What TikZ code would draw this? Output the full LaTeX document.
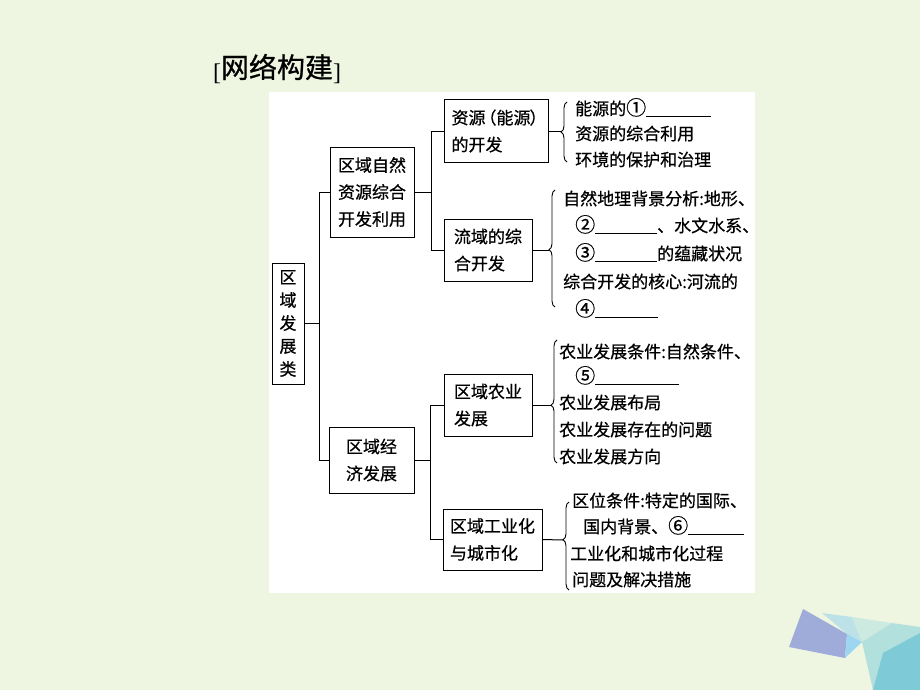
\documentclass[tikz,border=0pt]{standalone}
\usepackage{fontspec}
\setmainfont{Liberation Serif}
\newfontfamily\cjk[FakeBold=0.6]{Noto Sans CJK SC}
\newfontfamily\cjktitle[FakeBold=0.8]{Noto Sans CJK SC}
\usetikzlibrary{decorations.pathreplacing}
\definecolor{bg}{HTML}{EEF6E2}
\definecolor{polyA}{HTML}{9FABD8}
\definecolor{polyB}{HTML}{9DD6F0}
\definecolor{polyC}{HTML}{BCE2E8}
\definecolor{polyD}{HTML}{CCEADF}
\definecolor{polyE}{HTML}{B2E0DC}
\definecolor{polyF}{HTML}{7ECAD6}
\newcommand{\blank}[1]{\rule[-2pt]{#1pt}{0.7pt}}
\newcommand{\circnum}[1]{{\fontsize{20}{20}\selectfont #1}}
\begin{document}
\begin{tikzpicture}[x=1pt,y=-1pt,
  box/.style={draw, line width=1pt, inner sep=0pt, align=left,
    font=\cjk\fontsize{17}{27}\selectfont},
  item/.style={anchor=base west, inner sep=0pt, font=\cjk\fontsize{17}{20}\selectfont},
  link/.style={line width=1pt},
  brc/.style={line width=0.9pt, decorate}]
\fill[bg] (0,0) rectangle (920,690);
\useasboundingbox (0,0) rectangle (920,690);
\fill[white] (269,92) rectangle (755,593);

% decoration polygons
\fill[polyC] (822,613) -- (852,617) -- (862,642) -- (847,634) -- cycle;
\fill[polyD] (852,617) -- (892,623) -- (862,642) -- cycle;
\fill[polyE] (862,642) -- (892,623) -- (920,627) -- (920,690) -- (873,690) -- cycle;
\fill[polyF] (883,653) -- (920,633) -- (920,690) -- (873,690) -- cycle;
\fill[polyA] (803,609) -- (847,634) -- (845,658) -- (789,647) -- cycle;
\fill[polyB] (847,634) -- (862,642) -- (845,658) -- cycle;

% title
\node[inner sep=0pt] (title) at (277,69)
  {\fontsize{24}{28}\selectfont\raisebox{-3pt}{[}\cjktitle\fontsize{28}{32}\selectfont 网络构建\rmfamily\fontsize{24}{28}\selectfont\raisebox{-3pt}{]}};

% boxes
\node[box, minimum width=32pt, minimum height=121pt, align=center,
  font=\cjk\fontsize{17}{23}\selectfont] (root) at (288,323.5) {区\\域\\发\\展\\类};
\node[box, minimum width=84pt, minimum height=90pt] (A) at (372,192) {区域自然\\资源综合\\开发利用};
\node[box, minimum width=85pt, minimum height=66pt] (B) at (371.5,460) {区域经\\济发展};
\node[box, minimum width=104pt, minimum height=62pt] (a1) at (496,131)
  {资源\kern-6pt（能源\kern-1pt）\kern-6pt\\的开发};
\node[box, minimum width=88pt, minimum height=62pt] (a2) at (488,250) {流域的综\\合开发};
\node[box, minimum width=88pt, minimum height=62pt] (b1) at (488,405) {区域农业\\发展};
\node[box, minimum width=99pt, minimum height=61pt] (b2) at (492.5,539.5) {区域工业化\\与城市化};

% tree connectors
\coordinate (j0) at (319,0);
\coordinate (j1) at (431,0);
\coordinate (j2) at (430,0);
\draw[link] (root.east) -- (root.east -| j0);
\draw[link] (A.west) -| (j0 |- B.west) -- (B.west);
\draw[link] (A.east) -- (A.east -| j1);
\draw[link] (a1.west) -| (j1 |- a2.west) -- (a2.west);
\draw[link] (B.east) -- (B.east -| j2);
\draw[link] (b1.west) -| (j2 |- b2.west) -- (b2.west);

% braces
\coordinate (ca1) at (561,131);
\coordinate (sa1) at (567,162); \coordinate (ea1) at (567,102);
\coordinate (ca2) at (549,250);
\coordinate (sa2) at (555,307); \coordinate (ea2) at (555,190);
\coordinate (cb1) at (551,405);
\coordinate (sb1) at (557,463); \coordinate (eb1) at (557,340);
\coordinate (cb2) at (563,540);
\coordinate (sb2) at (569,590); \coordinate (eb2) at (569,502);
\draw[link] (a1.east) -- (ca1);
\draw[link] (a2.east) -- (ca2);
\draw[link] (b1.east) -- (cb1);
\draw[link] (b2.east) -- (cb2);
\draw[brc, decoration={brace, amplitude=6pt, aspect=0.5}] (sa1) -- (ea1);
\draw[brc, decoration={brace, amplitude=6pt, aspect=0.49}] (sa2) -- (ea2);
\draw[brc, decoration={brace, amplitude=6pt, aspect=0.47}] (sb1) -- (eb1);
\draw[brc, decoration={brace, amplitude=6pt, aspect=0.57}] (sb2) -- (eb2);

% items
\node[item] (t1) at (575,115) {能源的\circnum{①}\blank{65}};
\node[item] (t2) at (575,140) {资源的综合利用};
\node[item] (t3) at (575,166) {环境的保护和治理};

\node[item] (t4) at (563,205) {自然地理背景分析:地形、};
\node[item] (t5) at (575,232) {\circnum{②}\blank{62}、水文水系、};
\node[item] (t6) at (575,260) {\circnum{③}\blank{62}的蕴藏状况};
\node[item] (t7) at (563,288) {综合开发的核心:河流的};
\node[item] (t8) at (575,316) {\circnum{④}\blank{63}};

\node[item] (t9) at (559,358) {农业发展条件:自然条件、};
\node[item] (t10) at (575,383) {\circnum{⑤}\blank{84}};
\node[item] (t11) at (559,409) {农业发展布局};
\node[item] (t12) at (559,436) {农业发展存在的问题};
\node[item] (t13) at (559,463) {农业发展方向};

\node[item] (t14) at (572,507) {区位条件:特定的国际、};
\node[item] (t15) at (583,533) {国内背景、\circnum{⑥}\blank{56}};
\node[item] (t16) at (570,560) {工业化和城市化过程};
\node[item] (t17) at (572,586) {问题及解决措施};
\end{tikzpicture}
\end{document}
